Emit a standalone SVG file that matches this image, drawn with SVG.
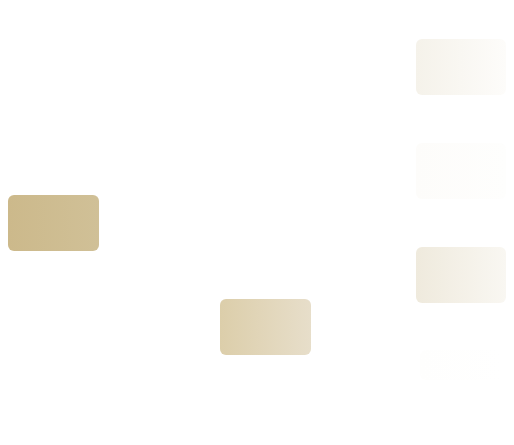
<svg xmlns="http://www.w3.org/2000/svg" width="514" height="445" viewBox="0 0 514 445">
<defs>
<linearGradient id="g1" x1="0" y1="0" x2="1" y2="0"><stop offset="0" stop-color="#CCB98B"/><stop offset="1" stop-color="#D0C097"/></linearGradient>
<linearGradient id="g2" x1="0" y1="0" x2="1" y2="0"><stop offset="0" stop-color="#DCCEAA"/><stop offset="1" stop-color="#E7DECA"/></linearGradient>
<linearGradient id="g3" x1="0" y1="0" x2="1" y2="0"><stop offset="0" stop-color="#F5F2EA"/><stop offset="1" stop-color="#FDFCFA"/></linearGradient>
<linearGradient id="g4" x1="0" y1="0" x2="1" y2="0"><stop offset="0" stop-color="#FDFCFA"/><stop offset="1" stop-color="#FEFEFD"/></linearGradient>
<linearGradient id="g5" x1="0" y1="0" x2="1" y2="0"><stop offset="0" stop-color="#EFEADD"/><stop offset="1" stop-color="#F9F7F2"/></linearGradient>
<linearGradient id="g6" x1="0" y1="0" x2="1" y2="0"><stop offset="0" stop-color="#FEFEFD"/><stop offset="1" stop-color="#FFFFFF"/></linearGradient>
</defs>
<style>
.node rect{stroke:none}
</style>
<rect width="514" height="445" fill="#FFFFFF"/>
<g id="connectors"></g>
<g id="node1" class="node"><rect x="8" y="195" width="91" height="56" rx="6" fill="url(#g1)"/></g>
<g id="node2" class="node"><rect x="220" y="299" width="91" height="56" rx="6" fill="url(#g2)"/></g>
<g id="node3" class="node"><rect x="416" y="39" width="90" height="56" rx="6" fill="url(#g3)"/></g>
<g id="node4" class="node"><rect x="416" y="143" width="90" height="56" rx="6" fill="url(#g4)"/></g>
<g id="node5" class="node"><rect x="416" y="247" width="90" height="56" rx="6" fill="url(#g5)"/></g>
<g id="node6" class="node"><rect x="420" y="350" width="82" height="30" rx="6" fill="url(#g6)"/></g>
</svg>
